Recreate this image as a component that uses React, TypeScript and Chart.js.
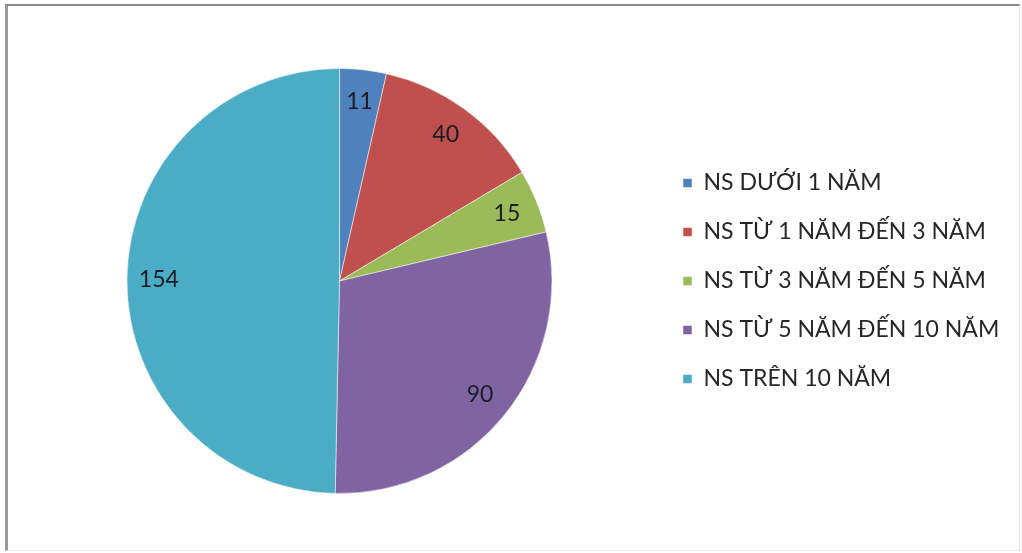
import React, { useEffect, useRef } from "react";
import { Chart, registerables } from "chart.js";

Chart.register(...registerables);

const categories = [
  "NS DƯỚI 1 NĂM",
  "NS TỪ 1 NĂM ĐẾN 3 NĂM",
  "NS TỪ 3 NĂM ĐẾN 5 NĂM",
  "NS TỪ 5 NĂM ĐẾN 10 NĂM",
  "NS TRÊN 10 NĂM",
];
const values = [11, 40, 15, 90, 154];
const colors = ["#4F81BD", "#C0504D", "#9BBB59", "#8064A2", "#4BACC6"];

const W = 1022;
const H = 553;
const FONT_FAMILY = "Lato, 'Open Sans', 'DejaVu Sans', sans-serif";
const LEGEND_SIZE = 23;
const LEGEND_PAD = 26;
const LEGEND_BOX = 9;
const LABEL_SIZE = 23;

const labelPlugin = {
  id: "sliceLabels",
  afterDatasetsDraw(chart: any) {
    const ctx = chart.ctx;
    const meta = chart.getDatasetMeta(0);
    ctx.save();
    ctx.font = `${LABEL_SIZE}px ${FONT_FAMILY}`;
    ctx.fillStyle = "#1c1c26";
    ctx.textAlign = "center";
    ctx.textBaseline = "middle";
    meta.data.forEach((arc: any, i: number) => {
      const p = arc.getProps(["x", "y", "startAngle", "endAngle", "outerRadius"], true);
      const mid = (p.startAngle + p.endAngle) / 2;
      const r = p.outerRadius * 0.85;
      ctx.fillText(String(values[i]), p.x + Math.cos(mid) * r, p.y + Math.sin(mid) * r);
    });
    ctx.restore();
  },
};

export default function App() {
  const ref = useRef<HTMLCanvasElement | null>(null);

  useEffect(() => {
    const canvas = ref.current;
    if (!canvas) return;
    const mctx = document.createElement("canvas").getContext("2d")!;
    mctx.font = `${LEGEND_SIZE}px ${FONT_FAMILY}`;
    const maxText = Math.max(...categories.map((c) => mctx.measureText(c).width));
    const legendLeft = 683 - LEGEND_PAD;
    const legendWidth = LEGEND_PAD + LEGEND_BOX + LEGEND_SIZE / 2 + maxText + 10;
    const rightPad = Math.max(0, W - legendLeft - legendWidth);
    const chartAreaRight = W - rightPad - legendWidth;
    const leftPad = Math.max(0, 2 * 339.5 - chartAreaRight);

    const chart = new Chart(canvas, {
      type: "pie",
      data: {
        labels: categories,
        datasets: [
          {
            data: values,
            backgroundColor: colors,
            borderColor: "rgba(255,255,255,0.5)",
            borderWidth: 1,
          },
        ],
      },
      options: {
        responsive: false,
        animation: false,
        layout: { padding: { left: leftPad, right: rightPad, top: 68, bottom: 59 } },
        plugins: {
          tooltip: { enabled: false },
          legend: {
            position: "right",
            labels: {
              boxWidth: LEGEND_BOX,
              boxHeight: LEGEND_BOX,
              padding: LEGEND_PAD,
              color: "#262626",
              font: { size: LEGEND_SIZE, family: FONT_FAMILY },
            },
          },
        },
      },
      plugins: [labelPlugin],
    });
    return () => chart.destroy();
  }, []);

  return (
    <div style={{ position: "fixed", left: 0, top: 0, width: W, height: H, background: "#fff", overflow: "hidden" }}>
      <div
        style={{
          position: "absolute",
          left: 5,
          top: 4,
          width: 1011,
          height: 544,
          borderTop: "2px solid #8a8a8a",
          borderLeft: "3px solid #9a9a9a",
          borderRight: "1px solid #e4e4e4",
          borderBottom: "1px solid #ececec",
        }}
      />
      <canvas ref={ref} width={W} height={H} style={{ position: "absolute", left: 0, top: 0, width: W, height: H }} />
    </div>
  );
}
